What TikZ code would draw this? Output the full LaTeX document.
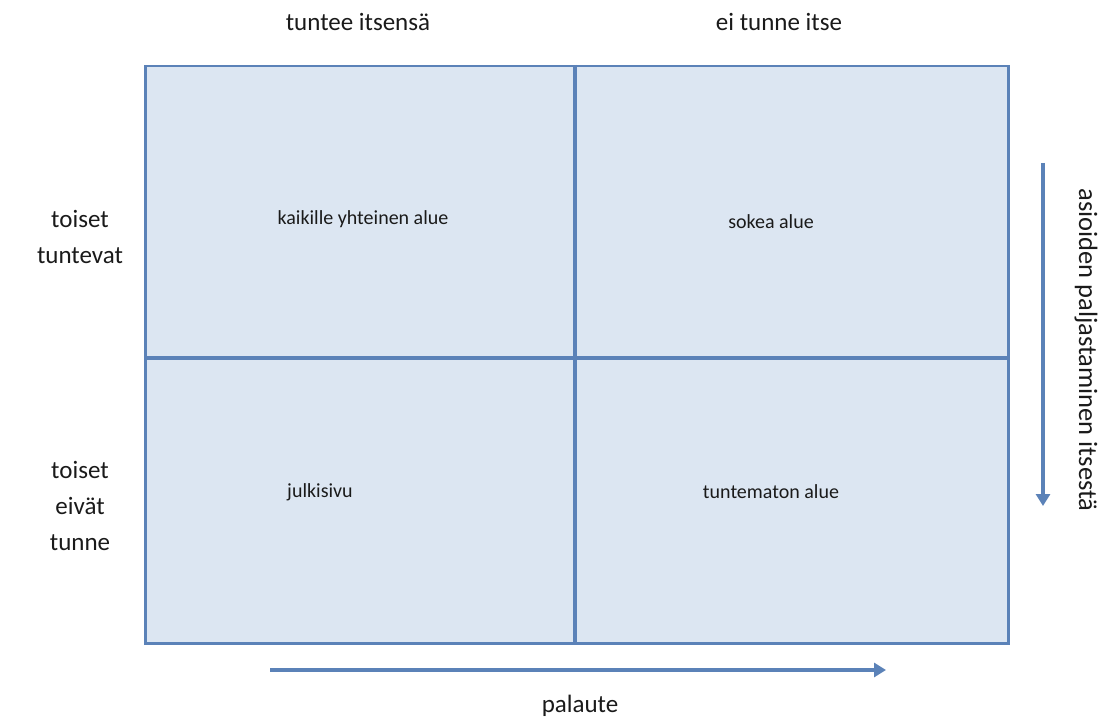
\documentclass[tikz,border=0pt]{standalone}
\usepackage{fontspec}
\setmainfont{Carlito}
\usetikzlibrary{arrows.meta}
\definecolor{qfill}{HTML}{DCE6F2}
\definecolor{qline}{HTML}{5B82B8}
\definecolor{txt}{HTML}{1A1A1A}
\begin{document}
\begin{tikzpicture}[x=1pt,y=-1pt,
  big/.style={font=\fontsize{25}{36}\selectfont, text=txt, align=center, inner sep=0pt},
  small/.style={font=\fontsize{20}{24}\selectfont, text=txt, inner sep=0pt},
  divider/.style={draw=qline, line width=3.5pt},
  flow/.style={draw=qline, line width=3.5pt, -{Triangle[length=12pt,width=14pt]}}]
\useasboundingbox (0,0) rectangle (1112,722);
\fill[white] (0,0) rectangle (1112,722);
\node[draw=qline, fill=qfill, line width=2.5pt, minimum width=863pt, minimum height=577pt, anchor=north west, inner sep=0pt] (box) at (144,65) {};
\coordinate (vt) at (575,65);
\coordinate (vb) at (575,642);
\coordinate (hl) at (144,358);
\coordinate (hr) at (1007,358);
\draw[divider] (vt) -- (vb);
\draw[divider] (hl) -- (hr);
\node[big] (c1) at (358,22) {tuntee itsensä};
\node[big] (c2) at (779,22) {ei tunne itse};
\node[big] (r1) at (80,237) {toiset\\tuntevat};
\node[big] (r2) at (80,506) {toiset\\eivät\\tunne};
\node[small] (q1) at (363,219) {kaikille yhteinen alue};
\node[small] (q2) at (771,222) {sokea alue};
\node[small] (q3) at (320,492) {julkisivu};
\node[small] (q4) at (771,492) {tuntematon alue};
\coordinate (ba) at (270,670);
\coordinate (bb) at (886,670);
\draw[flow] (ba) -- (bb);
\node[big] (pl) at (580,706) {palaute};
\coordinate (ra) at (1043,163);
\coordinate (rb) at (1043,506);
\draw[flow] (ra) -- (rb);
\node[big, font=\fontsize{26.5}{30}\selectfont, rotate=-90] (rl) at (1086,350) {asioiden paljastaminen itsestä};
\end{tikzpicture}
\end{document}
